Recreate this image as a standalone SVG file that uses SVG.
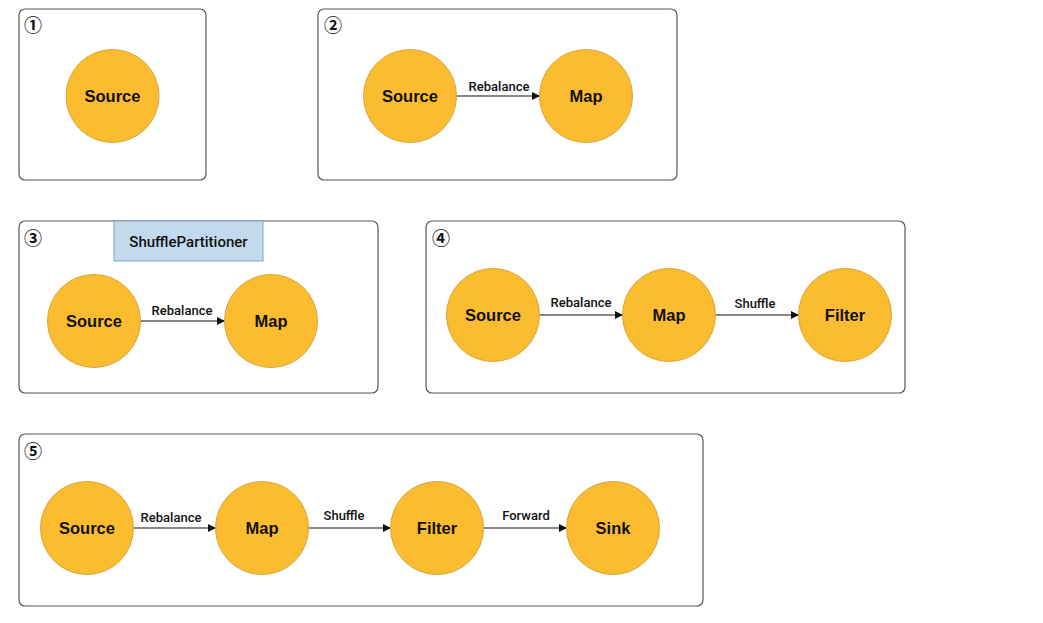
<svg xmlns="http://www.w3.org/2000/svg" width="1043" height="623" viewBox="0 0 1043 623">
<style>
.frame{fill:#fff;stroke:#555;stroke-width:1.2}
.node circle{fill:#FBBD2F;stroke:#D9A53A;stroke-width:1}
.node text{font-family:"Liberation Sans",Arial,sans-serif;font-weight:bold;font-size:16.5px;fill:#111;text-anchor:middle}
.num{font-family:"Noto Sans CJK SC","DejaVu Sans",sans-serif;font-weight:bold;font-size:18px;fill:#111}
.edge{stroke:#111;stroke-width:1.2;fill:none;marker-end:url(#ah)}
.lbl{font-family:Roboto,"Liberation Sans",sans-serif;font-weight:500;font-size:13px;fill:#111;text-anchor:middle}
</style>
<defs>
<marker id="ah" viewBox="0 0 10 10" refX="10" refY="5" markerWidth="8" markerHeight="8" markerUnits="userSpaceOnUse" orient="auto">
<path d="M0,0 L10,5 L0,10 z" fill="#111"/>
</marker>
</defs>
<rect width="1043" height="623" fill="#fff"/>

<g id="frames">
<rect class="frame" x="19" y="9" width="187" height="171" rx="6"/>
<rect class="frame" x="318" y="9" width="359" height="171" rx="6"/>
<rect class="frame" x="19" y="221" width="359" height="172" rx="6"/>
<rect class="frame" x="426" y="221" width="479" height="172" rx="6"/>
<rect class="frame" x="19" y="434" width="684" height="172" rx="6"/>
<text class="num" x="24" y="32">①</text>
<text class="num" x="324" y="32">②</text>
<text class="num" x="24" y="245">③</text>
<text class="num" x="432" y="245">④</text>
<text class="num" x="24" y="458">⑤</text>
</g>

<g id="shufflePartitioner">
<rect x="114" y="221" width="149" height="40" fill="#C3D9EE" stroke="#7FA3C8" stroke-width="1"/>
<text x="188.5" y="247" font-family="Roboto,'Liberation Sans',sans-serif" font-weight="500" font-size="15" fill="#111" text-anchor="middle">ShufflePartitioner</text>
</g>

<g id="connectors">
<line class="edge" x1="456" y1="96" x2="540" y2="96"/>
<text class="lbl" x="499" y="91">Rebalance</text>
<line class="edge" x1="140" y1="321" x2="225" y2="321"/>
<text class="lbl" x="182" y="315">Rebalance</text>
<line class="edge" x1="539" y1="315" x2="623" y2="315"/>
<text class="lbl" x="581" y="307">Rebalance</text>
<line class="edge" x1="715" y1="315" x2="799" y2="315"/>
<text class="lbl" x="755" y="308">Shuffle</text>
<line class="edge" x1="133" y1="528" x2="216" y2="528"/>
<text class="lbl" x="171" y="522">Rebalance</text>
<line class="edge" x1="308" y1="528" x2="391" y2="528"/>
<text class="lbl" x="344" y="520">Shuffle</text>
<line class="edge" x1="483" y1="528" x2="567" y2="528"/>
<text class="lbl" x="526" y="520">Forward</text>
</g>

<g id="f1-source" class="node"><circle cx="112.5" cy="96" r="46.5"/><text x="112.5" y="102">Source</text></g>
<g id="f2-source" class="node"><circle cx="410" cy="96" r="46.5"/><text x="410" y="102">Source</text></g>
<g id="f2-map" class="node"><circle cx="586" cy="96" r="46.5"/><text x="586" y="102">Map</text></g>
<g id="f3-source" class="node"><circle cx="94" cy="321" r="46.5"/><text x="94" y="327">Source</text></g>
<g id="f3-map" class="node"><circle cx="271" cy="321" r="46.5"/><text x="271" y="327">Map</text></g>
<g id="f4-source" class="node"><circle cx="493" cy="315" r="46.5"/><text x="493" y="321">Source</text></g>
<g id="f4-map" class="node"><circle cx="669" cy="315" r="46.5"/><text x="669" y="321">Map</text></g>
<g id="f4-filter" class="node"><circle cx="845" cy="315" r="46.5"/><text x="845" y="321">Filter</text></g>
<g id="f5-source" class="node"><circle cx="87" cy="528" r="46.5"/><text x="87" y="534">Source</text></g>
<g id="f5-map" class="node"><circle cx="262" cy="528" r="46.5"/><text x="262" y="534">Map</text></g>
<g id="f5-filter" class="node"><circle cx="437" cy="528" r="46.5"/><text x="437" y="534">Filter</text></g>
<g id="f5-sink" class="node"><circle cx="613" cy="528" r="46.5"/><text x="613" y="534">Sink</text></g>
</svg>
